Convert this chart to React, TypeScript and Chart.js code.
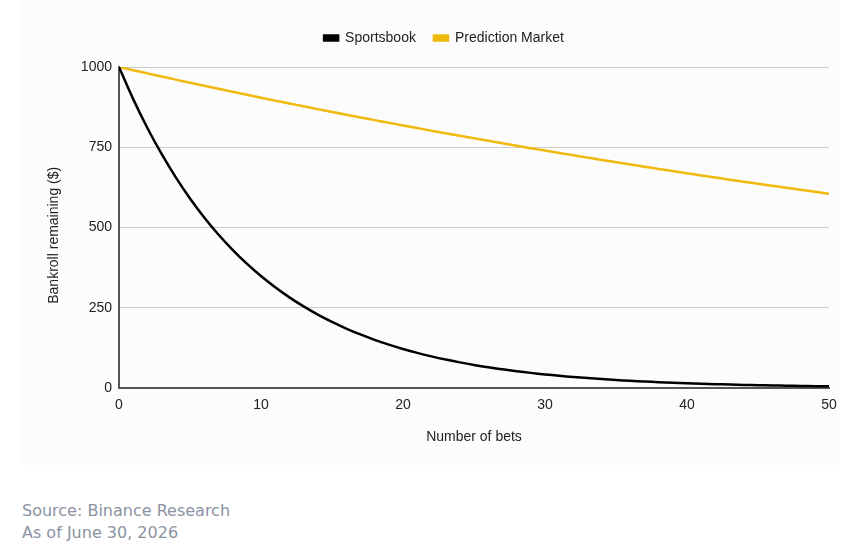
import React, { useEffect, useRef } from "react";
import Chart from "chart.js/auto";

const bets = [
  0, 1, 2, 3, 4, 5, 6, 7, 8, 9, 10, 11, 12, 13, 14, 15, 16, 17, 18, 19, 20, 21, 22, 23, 24, 25,
  26, 27, 28, 29, 30, 31, 32, 33, 34, 35, 36, 37, 38, 39, 40, 41, 42, 43, 44, 45, 46, 47, 48, 49, 50,
];

const sportsbook = [
  1000, 900, 810, 729, 656.1, 590.5, 531.4, 478.3, 430.5, 387.4, 348.7, 313.8, 282.4, 254.2,
  228.8, 205.9, 185.3, 166.8, 150.1, 135.1, 121.6, 109.4, 98.5, 88.6, 79.8, 71.8, 64.6, 58.2,
  52.3, 47.1, 42.4, 38.2, 34.3, 30.9, 27.8, 25.0, 22.5, 20.3, 18.2, 16.4, 14.8, 13.3, 12.0,
  10.8, 9.7, 8.7, 7.9, 7.1, 6.4, 5.7, 5.2,
];

const predictionMarket = [
  1000, 990, 980.1, 970.3, 960.6, 951.0, 941.5, 932.1, 922.7, 913.5, 904.4, 895.3, 886.4, 877.5,
  868.7, 860.1, 851.5, 842.9, 834.5, 826.2, 817.9, 809.7, 801.6, 793.6, 785.7, 777.8, 770.0,
  762.3, 754.7, 747.1, 739.7, 732.3, 724.9, 717.7, 710.5, 703.4, 696.4, 689.4, 682.5, 675.7,
  669.0, 662.3, 655.6, 649.1, 642.6, 636.2, 629.8, 623.5, 617.3, 611.1, 605.0,
];

const FONT = "'Liberation Sans', Arial, sans-serif";

// extra space under the legend
const legendMargin = {
  id: "legendMargin",
  beforeInit(chart: any) {
    const origFit = chart.legend.fit;
    chart.legend.fit = function () {
      origFit.bind(chart.legend)();
      this.height += 12;
    };
  },
};

const App: React.FC = () => {
  const chartRef = useRef<HTMLCanvasElement | null>(null);
  const chartInstance = useRef<Chart | null>(null);

  useEffect(() => {
    if (!chartRef.current) return;
    if (chartInstance.current) chartInstance.current.destroy();

    chartInstance.current = new Chart(chartRef.current, {
      type: "line",
      data: {
        datasets: [
          {
            label: "Sportsbook",
            data: bets.map((b, i) => ({ x: b, y: sportsbook[i] })),
            borderColor: "#000000",
            backgroundColor: "#000000",
            borderWidth: 2.5,
            pointRadius: 0,
            tension: 0.4,
          },
          {
            label: "Prediction Market",
            data: bets.map((b, i) => ({ x: b, y: predictionMarket[i] })),
            borderColor: "#F0B90B",
            backgroundColor: "#F0B90B",
            borderWidth: 2.5,
            pointRadius: 0,
            tension: 0.4,
          },
        ],
      },
      plugins: [legendMargin],
      options: {
        animation: false,
        responsive: false,
        layout: { padding: { left: 59, right: 36, top: 13, bottom: 20 } },
        plugins: {
          legend: {
            position: "top",
            labels: {
              font: { family: FONT, size: 14 },
              color: "#222",
              boxWidth: 14,
              boxHeight: 5,
              padding: 18,
            },
          },
          tooltip: { enabled: false },
        },
        scales: {
          x: {
            type: "linear",
            min: 0,
            max: 50,
            afterFit: (scale: any) => {
              scale.height = 62;
            },
            ticks: {
              stepSize: 10,
              font: { family: FONT, size: 14 },
              color: "#222",
              padding: 9,
            },
            grid: { display: false, drawTicks: false },
            border: { color: "#555", width: 2 },
            title: {
              display: true,
              text: "Number of bets",
              font: { family: FONT, size: 14 },
              color: "#222",
            },
          },
          y: {
            min: 0,
            max: 1000,
            afterFit: (scale: any) => {
              scale.width = 60;
            },
            ticks: {
              stepSize: 250,
              font: { family: FONT, size: 14 },
              color: "#222",
              padding: 7,
              callback: (value: any) => String(value),
            },
            grid: { color: "#cccccc", drawTicks: false },
            border: { color: "#555", width: 2 },
            title: {
              display: true,
              // trailing spaces nudge the rotated title down a little
              text: "Bankroll remaining ($)    ",
              font: { family: FONT, size: 14 },
              color: "#222",
              padding: { top: -13, bottom: 4 },
            },
          },
        },
      },
    });

    return () => {
      if (chartInstance.current) {
        chartInstance.current.destroy();
        chartInstance.current = null;
      }
    };
  }, []);

  return (
    <div
      style={{
        position: "absolute",
        left: 0,
        top: 0,
        width: 865,
        height: 554,
        background: "#ffffff",
        overflow: "hidden",
      }}
    >
      <div
        style={{
          position: "absolute",
          left: 22,
          top: 0,
          width: 818,
          height: 465,
          background: "#fcfcfc",
        }}
      />
      <canvas
        ref={chartRef}
        width={865}
        height={470}
        style={{ position: "absolute", left: 0, top: 0, width: 865, height: 470 }}
      />
      <div
        style={{
          position: "absolute",
          left: 22,
          top: 500,
          fontFamily: "'DejaVu Sans', sans-serif",
          fontSize: 16,
          lineHeight: "22px",
          color: "#8a93a3",
        }}
      >
        <div>Source: Binance Research</div>
        <div>As of June 30, 2026</div>
      </div>
    </div>
  );
};

export default App;
